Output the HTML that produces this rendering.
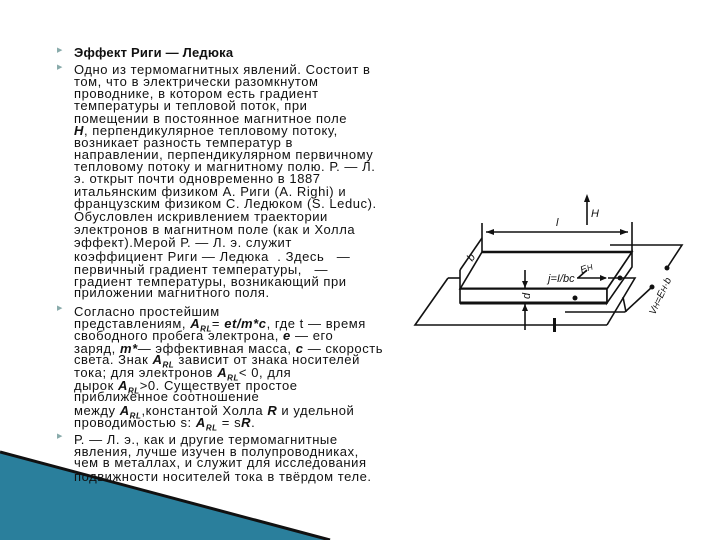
<!DOCTYPE html>
<html><head><meta charset="utf-8">
<style>
body{margin:0;width:720px;height:540px;background:#fff;position:relative;overflow:hidden;font-family:"Liberation Sans","DejaVu Sans",sans-serif;}
.l{position:absolute;left:74px;font-size:13px;line-height:16px;color:#111;white-space:nowrap;letter-spacing:0.55px}
.b{position:absolute;left:57px;font-size:7px;color:#8aa;}
i{font-style:italic;font-weight:bold}
sub{font-size:8px;line-height:0}
</style></head><body>
<svg width="720" height="540" style="position:absolute;left:0;top:0">
<polygon points="0,452 330,540 0,540" fill="#2a7f9c"/>
<line x1="0" y1="452" x2="330" y2="540" stroke="#111" stroke-width="3"/>
<g stroke="#111" stroke-width="1.6" fill="none">
<polygon points="482,252 632,252 607,289 460,289" fill="#fff"/>
<line x1="460" y1="289" x2="607" y2="289" stroke-width="3"/>
<line x1="482" y1="252" x2="632" y2="252" stroke-width="2.5"/>
<polygon points="460,289 607,289 607,303 460,303" fill="#fff"/>
<line x1="460" y1="303" x2="607" y2="303" stroke-width="3"/>
<polygon points="607,289 632,252 632,267 607,303" fill="#fff"/>
<polyline points="448,278 415,325 607,325"/>
<line x1="448" y1="278" x2="460" y2="278"/>
<polyline points="608,278 635,278 607,325"/>
<polyline points="565,312 625,312"/>
<polyline points="610,245 682,245 667,268"/>
<line x1="652" y1="287" x2="625" y2="312"/>
<line x1="482" y1="223" x2="482" y2="252"/>
<line x1="632" y1="222" x2="632" y2="252"/>
<line x1="486" y1="232" x2="628" y2="232"/>
<line x1="587" y1="225" x2="587" y2="198"/>
<line x1="460" y1="270" x2="482" y2="238"/>
<line x1="460" y1="270" x2="460" y2="289"/>
<line x1="525" y1="270" x2="525" y2="288"/>
<line x1="525" y1="304" x2="525" y2="330"/>
<line x1="587" y1="270" x2="578" y2="278"/>
<line x1="577" y1="278" x2="606" y2="278"/>
<line x1="623" y1="297" x2="626" y2="312"/>
</g>
<g fill="#111">
<polygon points="486,232 494,229 494,235"/><polygon points="628,232 620,229 620,235"/>
<polygon points="587,194 584,202 590,202"/>
<polygon points="525,288 522,281 528,281"/><polygon points="525,304 522,311 528,311"/>
<polygon points="607,278 600,275 600,281"/>
<circle cx="620" cy="278" r="2.5"/><circle cx="575" cy="298" r="2.5"/>
<circle cx="667" cy="268" r="2.5"/><circle cx="652" cy="287" r="2.5"/>
<rect x="553" y="318" width="3" height="14"/>
</g>
<g font-family="Liberation Sans,sans-serif" font-size="11" font-style="italic" fill="#111">
<text x="556" y="226">l</text><text x="591" y="217">H</text>
<text x="524" y="299" transform="rotate(-90 527 296)">d</text>
<text x="548" y="282">j=I/bc</text>
<text x="580" y="272" font-size="10" transform="rotate(-20 585 268)">E<tspan font-size="8">H</tspan></text>
<text x="468" y="262" transform="rotate(-55 470 258)">b</text>
<text x="650" y="312" font-size="10" transform="rotate(-65 655 310)">V<tspan font-size="8">H</tspan>=E<tspan font-size="8">H</tspan>·b</text>
</g>
</svg>
<div class="b" style="top:46px">▶</div><div class="b" style="top:63px">▶</div>
<div class="b" style="top:304px">▶</div><div class="b" style="top:432px">▶</div>
<div class="l" style="top:45px;font-weight:bold;letter-spacing:0.2px">Эффект Риги — Ледюка</div>
<div class="l" style="top:62px">Одно из термомагнитных явлений. Состоит в</div>
<div class="l" style="top:74px">том, что в электрически разомкнутом</div>
<div class="l" style="top:86px">проводнике, в котором есть градиент</div>
<div class="l" style="top:98px">температуры и тепловой поток, при</div>
<div class="l" style="top:111px">помещении в постоянное магнитное поле</div>
<div class="l" style="top:123px"><i>H</i>, перпендикулярное тепловому потоку,</div>
<div class="l" style="top:135px">возникает разность температур в</div>
<div class="l" style="top:147px">направлении, перпендикулярном первичному</div>
<div class="l" style="top:159px">тепловому потоку и магнитному полю. Р. — Л.</div>
<div class="l" style="top:171px">э. открыт почти одновременно в 1887</div>
<div class="l" style="top:184px">итальянским физиком А. Риги (A. Righi) и</div>
<div class="l" style="top:196px">французским физиком С. Ледюком (S. Leduc).</div>
<div class="l" style="top:209px">Обусловлен искривлением траектории</div>
<div class="l" style="top:222px">электронов в магнитном поле (как и Холла</div>
<div class="l" style="top:235px">эффект).Мерой Р. — Л. э. служит</div>
<div class="l" style="top:249px">коэффициент Риги — Ледюка &nbsp;. Здесь &nbsp; —</div>
<div class="l" style="top:262px">первичный градиент температуры, &nbsp; —</div>
<div class="l" style="top:274px">градиент температуры, возникающий при</div>
<div class="l" style="top:285px">приложении магнитного поля.</div>
<div class="l" style="top:304px">Согласно простейшим</div>
<div class="l" style="top:316px">представлениям, <i>A<sub>RL</sub></i>= <i>et/m*c</i>, где t — время</div>
<div class="l" style="top:328px">свободного пробега электрона, <i>e</i> — его</div>
<div class="l" style="top:341px">заряд, <i>m*</i>— эффективная масса, <i>c</i> — скорость</div>
<div class="l" style="top:352px">света. Знак <i>A<sub>RL</sub></i> зависит от знака носителей</div>
<div class="l" style="top:365px">тока; для электронов <i>A<sub>RL</sub></i>&lt; 0, для</div>
<div class="l" style="top:378px">дырок <i>A<sub>RL</sub></i>&gt;0. Существует простое</div>
<div class="l" style="top:389px">приближенное соотношение</div>
<div class="l" style="top:403px">между <i>A<sub>RL</sub></i>,константой Холла <i>R</i> и удельной</div>
<div class="l" style="top:415px">проводимостью s: <i>A<sub>RL</sub></i> = s<i>R</i>.</div>
<div class="l" style="top:432px">Р. — Л. э., как и другие термомагнитные</div>
<div class="l" style="top:444px">явления, лучше изучен в полупроводниках,</div>
<div class="l" style="top:455px">чем в металлах, и служит для исследования</div>
<div class="l" style="top:469px">подвижности носителей тока в твёрдом теле.</div>
</body></html>
